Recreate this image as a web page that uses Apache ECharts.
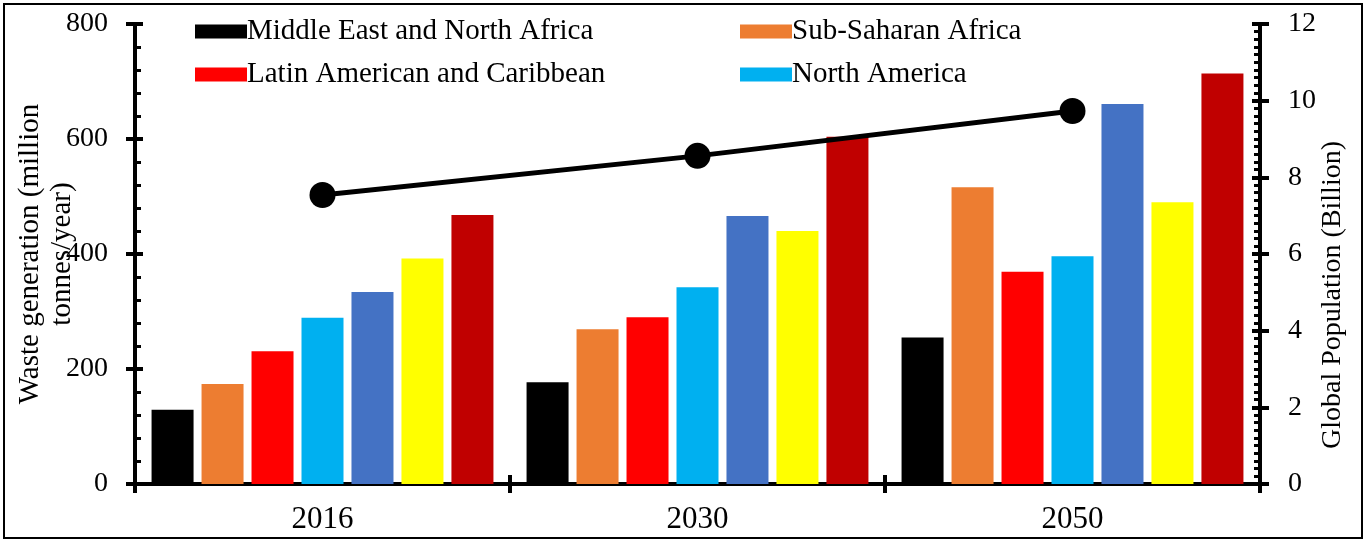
<!DOCTYPE html>
<html><head><meta charset="utf-8">
<script src="https://cdn.jsdelivr.net/npm/echarts@6/dist/echarts.min.js"></script>
<style>html,body{margin:0;padding:0;background:#fff}#c{width:1366px;height:542px}</style>
</head><body><div id="c"></div>
<script>
const categories = ['2016', '2030', '2050'];
const seriesNames = ['Middle East and North Africa', 'Sub-Saharan Africa', 'Latin American and Caribbean', 'North America', 'South Asia', 'Europe and Central Asia', 'East Asia and Pacific'];
const mena = [129, 177, 255];
const ssa = [174, 269, 516];
const lac = [231, 290, 369];
const na = [289, 342, 396];
const sa = [334, 466, 661];
const eca = [392, 440, 490];
const eap = [468, 604, 714];
const population = [7.54, 8.56, 9.73];
const legendCol1 = ['Middle East and North Africa', 'Latin American and Caribbean'];
const legendCol2 = ['Sub-Saharan Africa', 'North America'];

const colors = ['#000000', '#ED7D31', '#FF0000', '#00B0F0', '#4472C4', '#FFFF00', '#C00000'];
const values = [mena, ssa, lac, na, sa, eca, eap];
const FONT = '"Liberation Serif", "Times New Roman", serif';

const chart = echarts.init(document.getElementById('c'));
const barSeries = values.map((v, i) => ({
  name: seriesNames[i], type: 'bar', data: v, xAxisIndex: 0, yAxisIndex: 0,
  barWidth: 42, barGap: '19%', itemStyle: { color: colors[i] }
}));
const axisBase = { lineStyle: { color: '#000', width: 4 } };
const legendText = { fontFamily: FONT, fontSize: 29, lineHeight: 29, color: '#000', padding: [0, 0, 0, -5] };
chart.setOption({
  animation: false,
  textStyle: { fontFamily: FONT },
  grid: { left: 135, right: 106, top: 24, bottom: 58, containLabel: false, outerBoundsMode: 'none' },
  legend: [
    { data: legendCol1, orient: 'vertical', left: 190, top: 12, itemWidth: 52, itemHeight: 14, itemGap: 14,
      textStyle: legendText, icon: 'rect' },
    { data: legendCol2, orient: 'vertical', left: 735, top: 12, itemWidth: 52, itemHeight: 14, itemGap: 14,
      textStyle: legendText, icon: 'rect' }
  ],
  xAxis: [
    { type: 'category', data: categories, axisLine: axisBase,
      axisTick: { show: true, inside: true, length: 9, lineStyle: { color: '#000', width: 4 } },
      axisLabel: { fontFamily: FONT, fontSize: 31, color: '#000', margin: 20 } },
    { type: 'category', data: categories, position: 'bottom', axisLine: { show: false },
      axisTick: { show: true, inside: false, length: 9, lineStyle: { color: '#000', width: 4 } },
      axisLabel: { show: false } }
  ],
  yAxis: [
    { type: 'value', min: 0, max: 800, interval: 200, position: 'left',
      axisLine: { show: true, lineStyle: { color: '#000', width: 4 } },
      axisTick: { show: true, inside: true, length: 8, lineStyle: { color: '#000', width: 4 } },
      minorTick: { show: true, splitNumber: 5, length: 6, lineStyle: { color: '#000', width: 3 } },
      splitLine: { show: false },
      axisLabel: { fontFamily: FONT, fontSize: 28, color: '#000', margin: 27 },
      name: 'Waste generation (million\ntonnes/year)', nameLocation: 'middle', nameGap: 57, nameRotate: 90,
      nameMoveOverlap: false,
      nameTextStyle: { fontFamily: FONT, fontSize: 29, color: '#000', lineHeight: 32 } },
    { type: 'value', min: 0, max: 12, interval: 2, position: 'right',
      axisLine: { show: true, lineStyle: { color: '#000', width: 4 } },
      axisTick: { show: true, inside: true, length: 8, lineStyle: { color: '#000', width: 4 } },
      minorTick: { show: true, splitNumber: 10, length: 6, lineStyle: { color: '#000', width: 3 } },
      splitLine: { show: false },
      axisLabel: { fontFamily: FONT, fontSize: 28, color: '#000', margin: 28 },
      name: 'Global Population (Billion)', nameLocation: 'middle', nameGap: 59, nameRotate: 90,
      nameMoveOverlap: false,
      nameTextStyle: { fontFamily: FONT, fontSize: 28, color: '#000', padding: [0, 82, 0, 0] } },
    { type: 'value', min: 0, max: 800, interval: 200, position: 'left', axisLine: { show: false },
      axisTick: { show: true, inside: false, length: 9, lineStyle: { color: '#000', width: 4 } },
      splitLine: { show: false }, axisLabel: { show: false } },
    { type: 'value', min: 0, max: 12, interval: 2, position: 'right', axisLine: { show: false },
      axisTick: { show: true, inside: false, length: 9, lineStyle: { color: '#000', width: 4 } },
      splitLine: { show: false }, axisLabel: { show: false } }
  ],
  series: barSeries.concat([{
    name: 'Global Population', type: 'line', data: population, xAxisIndex: 0, yAxisIndex: 1,
    symbol: 'circle', symbolSize: 26, z: 5,
    lineStyle: { color: '#000', width: 5 }, itemStyle: { color: '#000' }
  }]),
  graphic: [{ type: 'rect', shape: { x: 4, y: 4, width: 1358, height: 534 },
    style: { fill: 'none', stroke: '#000', lineWidth: 2 }, silent: true }]
});
</script></body></html>
